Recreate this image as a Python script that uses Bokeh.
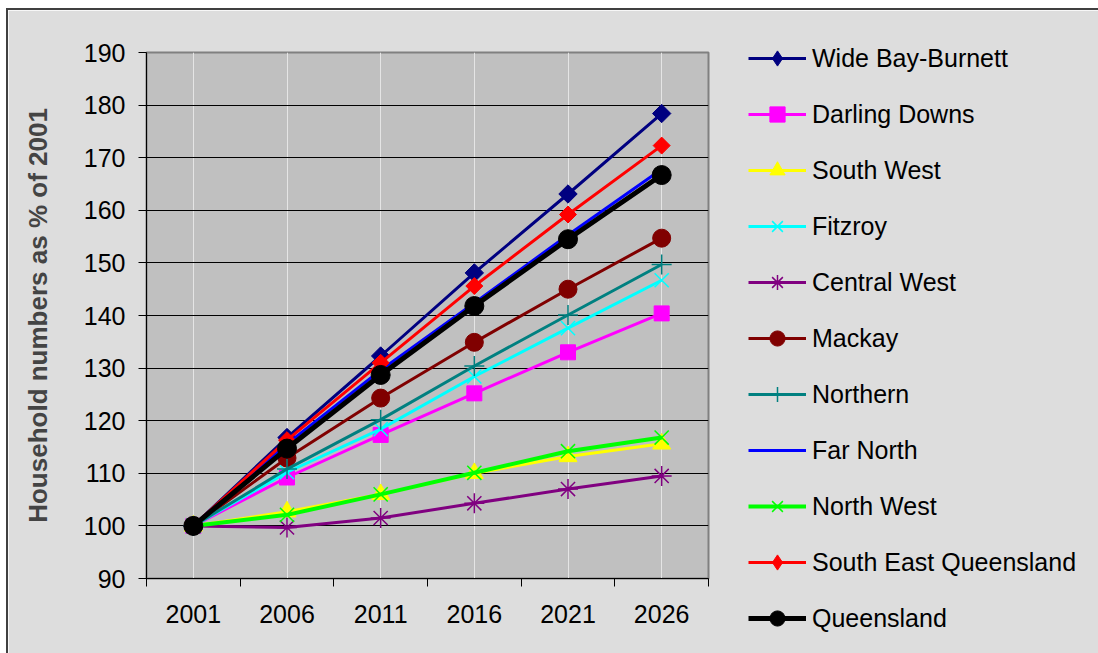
import math
from bokeh.plotting import figure
from bokeh.models import (Legend, LegendItem, Range1d, LinearAxis,
                          FixedTicker, SingleIntervalTicker)
from bokeh.embed import file_html
from bokeh.resources import INLINE

years = ["2001", "2006", "2011", "2016", "2021", "2026"]

wide_bay = [100, 116.8, 132.3, 148.1, 163.1, 178.4]
darling_downs = [100, 109.2, 117.3, 125.2, 133.0, 140.4]
south_west = [100, 102.7, 106.0, 110.0, 113.2, 115.6]
fitzroy = [100, 110.2, 118.4, 128.4, 137.6, 146.7]
central_west = [100, 99.7, 101.5, 104.3, 107.0, 109.5]
mackay = [100, 112.9, 124.3, 134.9, 145.0, 154.7]
northern = [100, 110.8, 120.2, 130.4, 140.1, 149.7]
far_north = [100, 115.6, 129.6, 142.4, 155.3, 167.8]
north_west = [100, 102.1, 106.0, 110.1, 114.2, 116.8]
seq = [100, 116.3, 131.0, 145.6, 159.2, 172.3]
queensland = [100, 114.7, 128.7, 141.8, 154.5, 166.7]

series = [
    ("Wide Bay-Burnett", wide_bay, "#000080", "rdiamond", 13, 3),
    ("Darling Downs", darling_downs, "#FF00FF", "square", 15, 3),
    ("South West", south_west, "#FFFF00", "triangle", 18, 3),
    ("Fitzroy", fitzroy, "#00FFFF", "x", 20, 3),
    ("Central West", central_west, "#800080", "asterisk", 20, 3),
    ("Mackay", mackay, "#800000", "circle", 18, 3),
    ("Northern", northern, "#008080", "cross", 20, 3),
    ("Far North", far_north, "#0000FF", "dash", 10, 3),
    ("North West", north_west, "#00FF00", "x", 20, 4),
    ("South East Queensland", seq, "#FF0000", "rdiamond", 12, 3),
    ("Queensland", queensland, "#000000", "circle", 19, 5),
]

FONT = "Liberation Sans"
BG = "#DDDDDD"

# category index positions (1..6) for the year categories
xpos = list(range(1, len(years) + 1))

p = figure(x_range=Range1d(0.5, len(years) + 0.5), y_range=Range1d(90, 190),
           frame_width=562, frame_height=526,
           output_backend="svg", toolbar_location=None,
           x_axis_location=None, y_axis_location=None,
           min_border_left=138, min_border_right=0, min_border_top=42,
           min_border_bottom=75,
           styles={"margin-left": "6px", "margin-top": "8px",
                   "border-left": "2px solid #404040",
                   "border-top": "2px solid #404040"})
p.background_fill_color = "#C0C0C0"
p.border_fill_color = BG
p.outline_line_color = "#808080"
p.outline_line_width = 2

# y axis
yax = LinearAxis(ticker=SingleIntervalTicker(interval=10),
                 axis_label="Household numbers as % of 2001")
yax.axis_line_color = "black"
yax.axis_line_width = 1
yax.major_tick_out = 8
yax.major_tick_in = 0
yax.minor_tick_line_color = None
yax.major_label_text_font = FONT
yax.major_label_text_font_size = "25px"
yax.major_label_text_color = "black"
yax.major_label_standoff = 13
yax.axis_label_text_font = FONT
yax.axis_label_text_font_size = "26px"
yax.axis_label_text_font_style = "bold"
yax.axis_label_standoff = 28
p.add_layout(yax, "left")

# x axis: ticks at category boundaries
bounds = [x + 0.5 for x in range(0, len(years) + 1)]
tick_ax = LinearAxis(ticker=FixedTicker(ticks=bounds))
tick_ax.axis_line_color = "black"
tick_ax.major_tick_out = 8
tick_ax.major_tick_in = 0
tick_ax.minor_tick_line_color = None
tick_ax.major_label_text_font_size = "0px"
tick_ax.major_label_standoff = 0
p.add_layout(tick_ax, "below")

xax = LinearAxis(ticker=FixedTicker(ticks=xpos),
                 major_label_overrides={x: y for x, y in zip(xpos, years)})
xax.axis_line_color = None
xax.major_tick_line_color = None
xax.minor_tick_line_color = None
xax.major_label_text_font = FONT
xax.major_label_text_font_size = "25px"
xax.major_label_text_color = "black"
xax.major_label_standoff = 12
p.add_layout(xax, "below")

p.ygrid.grid_line_color = "black"
p.ygrid.grid_line_width = 1
p.ygrid.ticker = SingleIntervalTicker(interval=10)

items = []
for name, vals, color, marker, size, lw in series:
    r1 = p.line(xpos, vals, line_color=color, line_width=lw)
    if marker in ("x", "asterisk", "cross"):
        r2 = p.scatter(xpos, vals, marker=marker, size=size, line_color=color,
                       line_width=1.5)
    elif marker == "dash":
        r2 = p.scatter(xpos, vals, marker=marker, size=size, line_color=color,
                       line_width=3)
    elif marker == "rdiamond":
        # diamond used for the legend key, covered by the rotated square
        r2 = p.scatter(xpos, vals, marker="diamond", size=size + 3,
                       fill_color=color, line_color=color)
        p.scatter(xpos, vals, marker="square", size=size, fill_color=color,
                  line_color=color, angle=math.pi / 4)
    else:
        r2 = p.scatter(xpos, vals, marker=marker, size=size, fill_color=color,
                       line_color=color, line_width=1)
    items.append(LegendItem(label=name, renderers=[r1, r2]))

legend = Legend(items=items, location=(40, -59))
legend.label_text_font = FONT
legend.label_text_font_size = "25px"
legend.label_text_color = "black"
legend.glyph_width = 58
legend.glyph_height = 38
legend.label_height = 38
legend.spacing = 18
legend.label_standoff = 6
legend.padding = 0
legend.margin = 0
legend.border_line_color = None
legend.background_fill_alpha = 0
p.add_layout(legend, "right")

open("out.html", "w").write(file_html(p, INLINE))
